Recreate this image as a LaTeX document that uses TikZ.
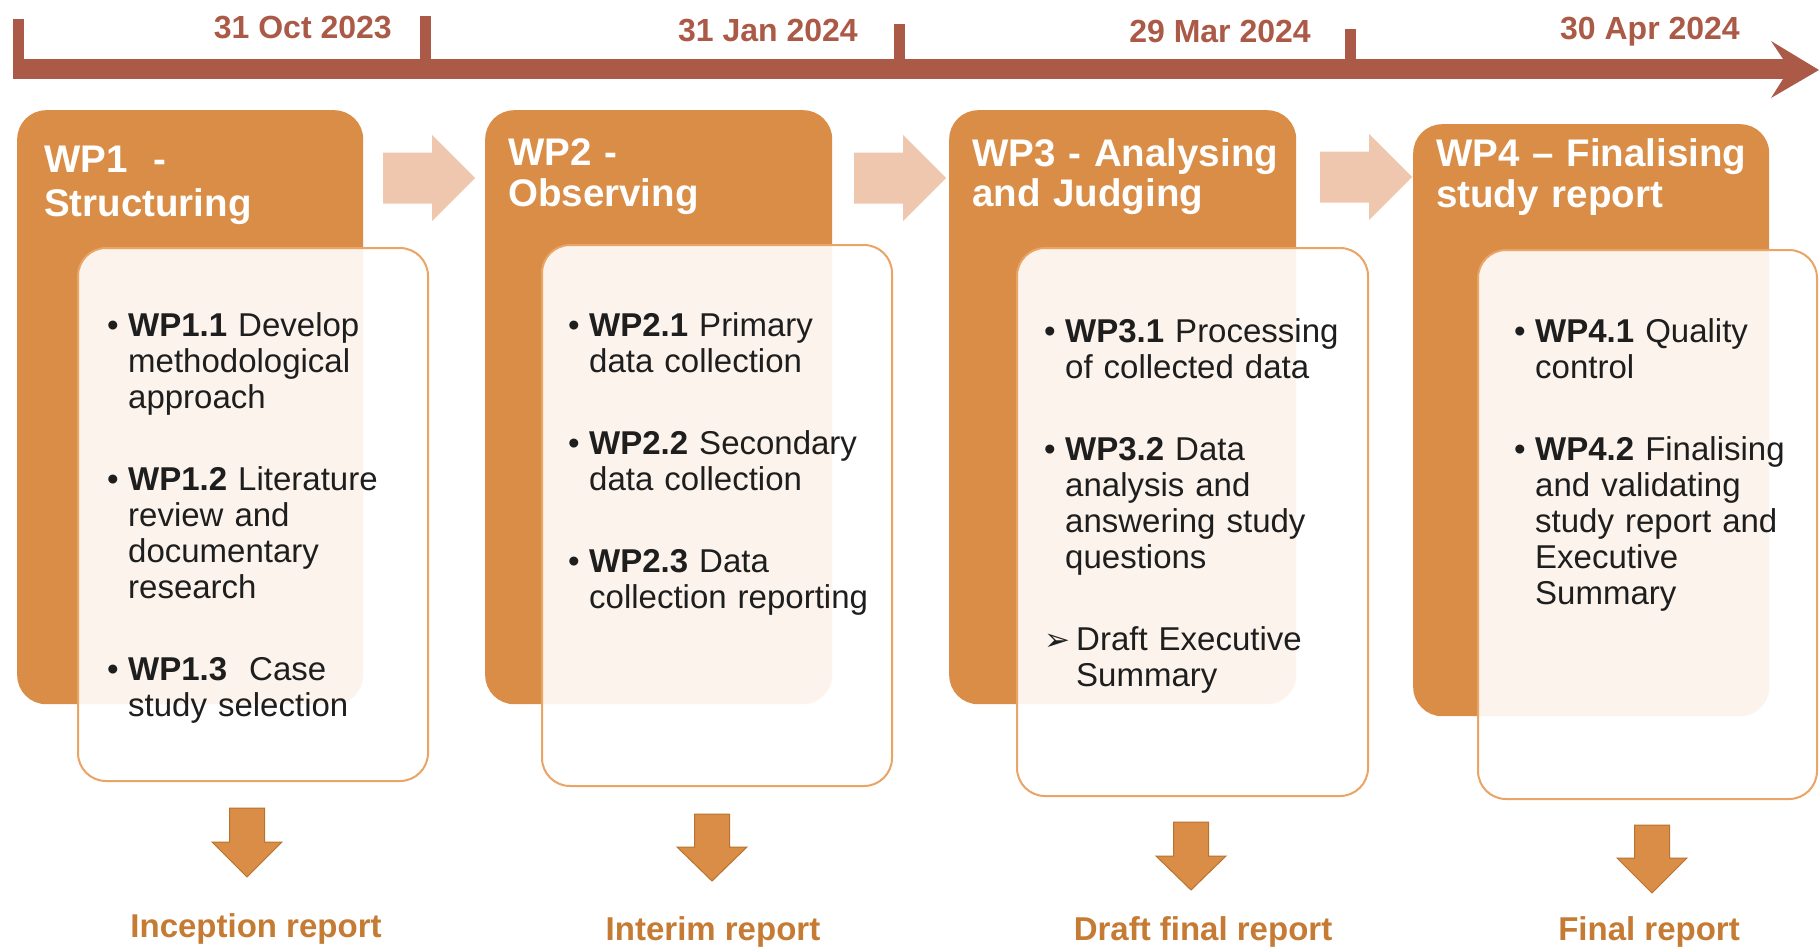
\documentclass[tikz,border=0pt]{standalone}
\usepackage{fontspec}
\setmainfont{Liberation Sans}
\newfontfamily\symfont{DejaVu Sans}
\definecolor{tl}{HTML}{AA5A46}
\definecolor{wpor}{HTML}{D98D46}
\definecolor{frborder}{HTML}{E9A466}
\definecolor{rarrow}{HTML}{EFC7AF}
\definecolor{dnedge}{HTML}{B8742F}
\definecolor{lbl}{HTML}{C57B33}
\definecolor{bodytxt}{HTML}{1E1E1E}
\tikzset{
  backbox/.style={fill=wpor, rounded corners=29pt, inner sep=0pt, anchor=north west},
  frontbox/.style={draw=frborder, line width=2pt, fill=white, fill opacity=0.9, rounded corners=28pt, inner sep=0pt, anchor=north west},
  titletext/.style={text=white, inner sep=0pt, anchor=base west, text width=420pt, align=left},
  bodytext/.style={text=bodytxt, font=\fontsize{33}{36}\selectfont, inner sep=0pt, anchor=base west, text width=330pt, align=left},
  datelbl/.style={text=tl, font=\bfseries\fontsize{32}{36}\selectfont, inner sep=0pt, anchor=base east},
  replbl/.style={text=lbl, font=\bfseries\fontsize{33}{36}\selectfont, inner sep=0pt, anchor=base},
  dnarrowsty/.style={fill=wpor, draw=dnedge, line width=1pt},
  rtarrowsty/.style={fill=rarrow}
}
\newcommand{\wpitem}[3]{\hangindent=#1\hangafter=1\noindent\makebox[#1][l]{#2}#3\par}
\newcommand{\dnarrow}[4]{\filldraw[dnarrowsty] ({#1-17.5},#2) -- ({#1+17.5},#2) -- ({#1+17.5},#3) -- ({#1+35},#3) -- (#1,#4) -- ({#1-35},#3) -- ({#1-17.5},#3) -- cycle;}
\newcommand{\rtarrow}[4]{\fill[rtarrowsty] (#1,{#4-25.5}) -- (#2,{#4-25.5}) -- (#2,{#4-43}) -- (#3,#4) -- (#2,{#4+43}) -- (#2,{#4+25.5}) -- (#1,{#4+25.5}) -- cycle;}
\begin{document}
\begin{tikzpicture}[x=1pt,y=-1pt]
\useasboundingbox (0,0) rectangle (1819,948);
\fill[white] (0,0) rectangle (1819,948);
% timeline
\fill[tl] (14,59) rectangle (1783,79);
\fill[tl] (13,19) rectangle (24,79);
\fill[tl] (420,16) rectangle (431,79);
\fill[tl] (894,24) rectangle (905,79);
\fill[tl] (1345,29) rectangle (1356,79);
\fill[tl] (1771,41) -- (1819,70) -- (1771,98) -- (1783,79) -- (1783,59) -- cycle;
\node[datelbl] (d1) at (392,38) {31 Oct 2023};
\node[datelbl] (d2) at (858,41) {31 Jan 2024};
\node[datelbl] (d3) at (1311,42) {29 Mar 2024};
\node[datelbl] (d4) at (1740,39) {30 Apr 2024};
% back boxes
\node[backbox, minimum width=346pt, minimum height=594pt] (b1) at (17,110) {};
\node[backbox, minimum width=347pt, minimum height=594pt] (b2) at (485,110) {};
\node[backbox, minimum width=347pt, minimum height=594pt] (b3) at (949,110) {};
\node[backbox, minimum width=356pt, minimum height=592pt] (b4) at (1413,124) {};
% titles
\node[titletext, font=\bfseries\fontsize{38.5}{44}\selectfont] (t1) at (44,172) {WP1 ~-\\Structuring};
\node[titletext, font=\bfseries\fontsize{38.5}{41}\selectfont] (t2) at (508,165) {WP2 -\\Observing};
\node[titletext, font=\bfseries\fontsize{38.5}{40}\selectfont] (t3) at (972,166) {WP3 - Analysing\\and Judging};
\node[titletext, font=\bfseries\fontsize{38.5}{41}\selectfont] (t4) at (1436,166) {WP4 – Finalising\\study report};
% right arrows
\rtarrow{383}{432}{475}{178}
\rtarrow{854}{903}{946}{178}
\rtarrow{1320}{1369}{1412}{177}
% front boxes
\node[frontbox, minimum width=350pt, minimum height=533pt] (f1) at (77,247) {};
\node[frontbox, minimum width=350pt, minimum height=541pt] (f2) at (541,244) {};
\node[frontbox, minimum width=351pt, minimum height=548pt] (f3) at (1016,247) {};
\node[frontbox, minimum width=339pt, minimum height=549pt] (f4) at (1477,249) {};
% body texts
\node[bodytext] (x1) at (107,336) {\setlength{\parskip}{46pt}%
\wpitem{21pt}{•}{\textbf{WP1.1} Develop\newline methodological\newline approach}%
\wpitem{21pt}{•}{\textbf{WP1.2} Literature\newline review and\newline documentary\newline research}%
\wpitem{21pt}{•}{\textbf{WP1.3}\ \ Case\newline study selection}};
\node[bodytext] (x2) at (568,336) {\setlength{\parskip}{46pt}%
\wpitem{21pt}{•}{\textbf{WP2.1} Primary\newline data collection}%
\wpitem{21pt}{•}{\textbf{WP2.2} Secondary\newline data collection}%
\wpitem{21pt}{•}{\textbf{WP2.3} Data\newline collection reporting}};
\node[bodytext] (x3) at (1044,342) {\setlength{\parskip}{46pt}%
\wpitem{21pt}{•}{\textbf{WP3.1} Processing\newline of collected data}%
\wpitem{21pt}{•}{\textbf{WP3.2} Data\newline analysis and\newline answering study\newline questions}%
\wpitem{32pt}{{\symfont\bfseries\fontsize{31}{36}\selectfont ➢}}{Draft Executive\newline Summary}};
\node[bodytext] (x4) at (1514,342) {\setlength{\parskip}{46pt}%
\wpitem{21pt}{•}{\textbf{WP4.1} Quality\newline control}%
\wpitem{21pt}{•}{\textbf{WP4.2} Finalising\newline and validating\newline study report and\newline Executive\newline Summary}};
% down arrows
\dnarrow{247}{808}{842}{877}
\dnarrow{712}{814}{847}{881}
\dnarrow{1191}{822}{856}{890}
\dnarrow{1652}{825}{858}{893}
% report labels
\node[replbl] (r1) at (256,937) {Inception report};
\node[replbl] (r2) at (713,940) {Interim report};
\node[replbl] (r3) at (1203,940) {Draft final report};
\node[replbl] (r4) at (1649,940) {Final report};
\end{tikzpicture}
\end{document}
